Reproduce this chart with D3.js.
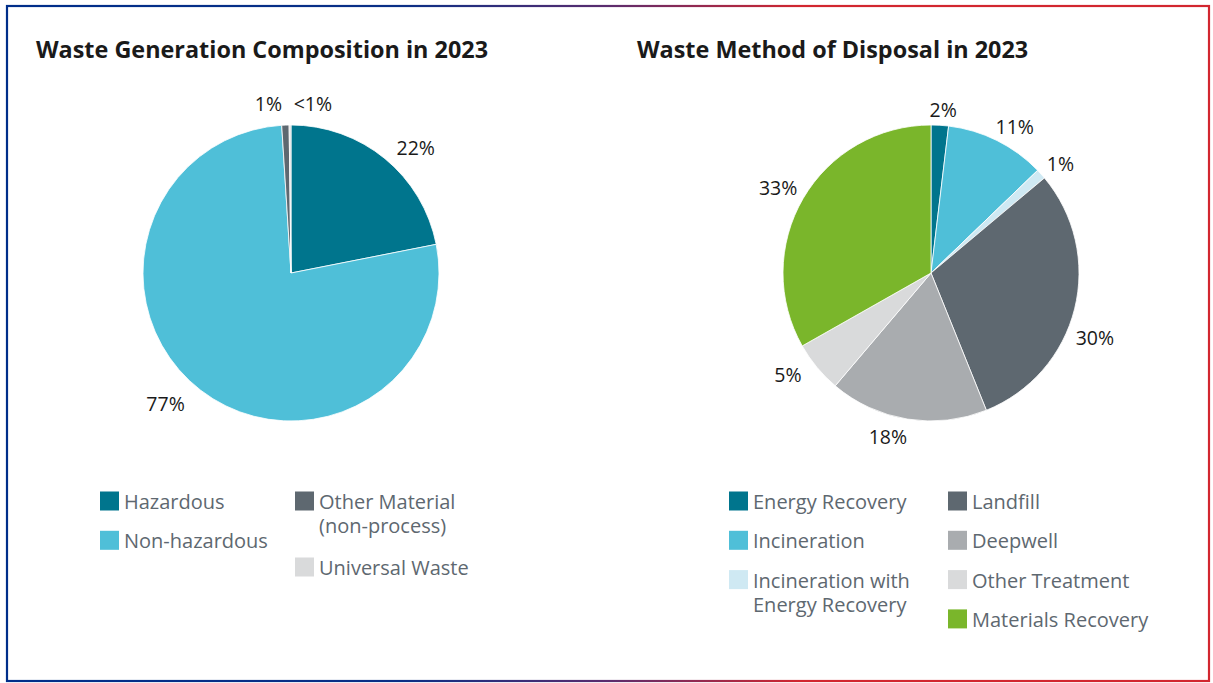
<!DOCTYPE html>
<html><head><meta charset="utf-8">
<script src="https://cdn.jsdelivr.net/npm/d3@7"></script>
<style>html,body{margin:0;padding:0;background:#fff;}svg{display:block;}</style>
</head><body>
<svg id="chart" width="1213" height="683"></svg>
<script>
// ---- data ----
const genTitle = "Waste Generation Composition in 2023";
const genCategories = ["Hazardous", "Non-hazardous", "Other Material (non-process)", "Universal Waste"];
const genValues = [21.9, 77.1, 0.8, 0.2];
const genLabels = ["22%", "77%", "1%", "<1%"];

const dispTitle = "Waste Method of Disposal in 2023";
const dispCategories = ["Energy Recovery", "Incineration", "Incineration with Energy Recovery", "Landfill", "Deepwell", "Other Treatment", "Materials Recovery"];
const dispValues = [1.9, 10.9, 1.1, 30.0, 17.3, 5.6, 33.2];
const dispLabels = ["2%", "11%", "1%", "30%", "18%", "5%", "33%"];

// ---- styles ----
const genColors = ["#00758d", "#4fbfd8", "#5e6870", "#d9dadb"];
const dispColors = ["#00758d", "#4fbfd8", "#cfe9f3", "#5e6870", "#a9acaf", "#d9dadb", "#7ab62b"];
const FONT = "'Open Sans', 'Noto Sans', sans-serif";

const svg = d3.select("#chart");

// gradient frame
const defs = svg.append("defs");
const grad = defs.append("linearGradient").attr("id", "frameGrad")
  .attr("gradientUnits", "userSpaceOnUse").attr("x1", 0).attr("y1", 0).attr("x2", 1213).attr("y2", 0);
grad.append("stop").attr("offset", "0%").attr("stop-color", "#002e8a");
grad.append("stop").attr("offset", "33%").attr("stop-color", "#0a2f86");
grad.append("stop").attr("offset", "50%").attr("stop-color", "#5a2c6e");
grad.append("stop").attr("offset", "66%").attr("stop-color", "#d2262f");
grad.append("stop").attr("offset", "100%").attr("stop-color", "#d2262f");
svg.append("rect").attr("x", 7).attr("y", 6).attr("width", 1202).attr("height", 675)
  .attr("fill", "none").attr("stroke", "url(#frameGrad)").attr("stroke-width", 2.2);

function drawPie(cfg) {
  const g = svg.append("g");
  g.append("text").attr("x", cfg.titleX).attr("y", 58)
    .attr("font-family", FONT).attr("font-weight", 700).attr("font-size", 23.4)
    .attr("fill", "#1a1a1a").text(cfg.title);

  const pie = d3.pie().sort(null).value(d => d)(cfg.values);
  const arc = d3.arc().innerRadius(0).outerRadius(cfg.r);
  const pg = g.append("g").attr("transform", `translate(${cfg.cx},${cfg.cy})`);
  pg.selectAll("path").data(pie).join("path")
    .attr("d", arc).attr("fill", (d, i) => cfg.colors[i])
    .attr("stroke", "#fff").attr("stroke-width", 0.8);

  const labelArc = d3.arc().innerRadius(cfg.lr).outerRadius(cfg.lr);
  pg.selectAll("text.lbl").data(pie).join("text").attr("class", "lbl")
    .attr("transform", (d, i) => {
      const c = labelArc.centroid(d);
      const n = cfg.nudge[i] || [0, 0];
      return `translate(${c[0] + n[0]},${c[1] + n[1]})`;
    })
    .attr("text-anchor", "middle").attr("dominant-baseline", "central")
    .attr("font-family", FONT).attr("font-size", 19.5).attr("fill", "#1a1a1a")
    .text((d, i) => cfg.labels[i]);

  // legend
  cfg.legendCols.forEach(col => {
    let y = col.y0;
    col.items.forEach(idx => {
      const lines = cfg.legendText[idx];
      g.append("rect").attr("x", col.x).attr("y", y - 9.5).attr("width", 19).attr("height", 19)
        .attr("fill", cfg.colors[idx]);
      const t = g.append("text").attr("x", col.x + 24).attr("y", y)
        .attr("dominant-baseline", "central")
        .attr("font-family", FONT).attr("font-size", 20).attr("fill", "#5e6870");
      lines.forEach((ln, k) => {
        t.append("tspan").attr("x", col.x + 24).attr("dy", k === 0 ? 0 : 24).text(ln);
      });
      y += lines.length === 1 ? 39.3 : 66;
    });
  });
}

drawPie({
  title: genTitle, titleX: 36, cx: 291, cy: 273, r: 148, lr: 176,
  values: genValues, labels: genLabels, colors: genColors,
  nudge: [[13, 10], [-18, -9], [-16, 6], [23, 6]],
  legendText: [["Hazardous"], ["Non-hazardous"], ["Other Material", "(non-process)"], ["Universal Waste"]],
  legendCols: [{ x: 100, y0: 501, items: [0, 1] }, { x: 295, y0: 501, items: [2, 3] }]
});

drawPie({
  title: dispTitle, titleX: 637, cx: 931, cy: 273, r: 148, lr: 170,
  values: dispValues, labels: dispLabels, colors: dispColors,
  nudge: [[2, 6], [8, 6], [3, 4], [-1, 23], [-16, -4], [-12, -7], [-6, 0]],
  legendText: [["Energy Recovery"], ["Incineration"], ["Incineration with", "Energy Recovery"], ["Landfill"], ["Deepwell"], ["Other Treatment"], ["Materials Recovery"]],
  legendCols: [{ x: 729, y0: 501, items: [0, 1, 2] }, { x: 948, y0: 501, items: [3, 4, 5, 6] }]
});
</script>
</body></html>
